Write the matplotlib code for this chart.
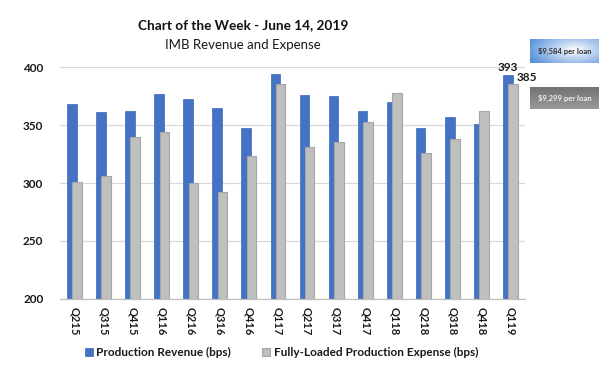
import numpy as np
import matplotlib
matplotlib.use("Agg")
import matplotlib.pyplot as plt

quarters = ["Q215", "Q315", "Q415", "Q116", "Q216", "Q316", "Q416", "Q117", "Q217",
            "Q317", "Q417", "Q118", "Q218", "Q318", "Q418", "Q119"]
revenue = [368, 361, 362, 377, 372, 365, 347, 394, 376, 375, 362, 370, 347, 357, 351, 393]
expense = [301, 306, 340, 344, 300, 292, 323, 385, 331, 335, 353, 378, 326, 338, 362, 385]
rev_label = "Production Revenue (bps)"
exp_label = "Fully-Loaded Production Expense (bps)"
title = "Chart of the Week - June 14, 2019"
subtitle = "IMB Revenue and Expense"
box1_text = "$9,584 per loan"
box2_text = "$9,299 per loan"

plt.rcParams['font.family'] = ['Lato', 'DejaVu Sans']

fig = plt.figure(figsize=(6.0, 3.67), dpi=100)
ax = fig.add_axes([0.1, 0.1853, 0.775, 0.6321])

x = np.arange(len(quarters))
w = 0.33
off = 0.09
blue = "#4472C4"
grey = "#BFBFBF"
ax.bar(x - off, revenue, width=w, color=blue, edgecolor="#3C68B8", linewidth=0.5,
       label=rev_label, zorder=2)
ax.bar(x + off, expense, width=w, color=grey, edgecolor="#A6A6A6", linewidth=0.8,
       label=exp_label, zorder=3)

ax.set_xlim(-0.5, len(quarters) - 0.5)
ax.set_ylim(200, 400)
ax.set_yticks([200, 250, 300, 350, 400])
ax.yaxis.grid(True, color="#D9D9D9", linewidth=0.9, zorder=0)
ax.set_axisbelow(True)
for s in ["top", "right", "left"]:
    ax.spines[s].set_visible(False)
ax.spines["bottom"].set_color("#BFBFBF")
ax.spines["bottom"].set_linewidth(0.9)
ax.tick_params(axis="y", length=0, pad=12, labelsize=8.5, labelcolor="#1a1a1a")
ax.tick_params(axis="x", length=0, pad=6, labelsize=8, labelcolor="#1a1a1a")
ax.set_xticks(x)
ax.set_xticklabels(quarters, rotation=-90, fontweight="bold")
for t in ax.get_yticklabels():
    t.set_fontweight("bold")

# value labels on last quarter
ax.text(x[-1] - off, revenue[-1] + 1.5, str(revenue[-1]), ha="center", va="bottom",
        fontsize=8.5, fontweight="bold", color="#1a1a1a")
ax.text(x[-1] + off + 0.12, expense[-1] + 1, str(expense[-1]), ha="left", va="bottom",
        fontsize=8.5, fontweight="bold", color="#1a1a1a")

fig.text(0.405, 0.932, title, ha="center", va="center", fontsize=9.8, fontweight="bold",
         color="#111111")
fig.text(0.405, 0.877, subtitle, ha="center", va="center", fontsize=9.5, color="#1a1a1a")

leg = fig.legend(loc="center", bbox_to_anchor=(0.469, 0.04), ncol=2, frameon=False,
                 fontsize=8.5, handlelength=0.7, handleheight=0.7, columnspacing=2.6,
                 handletextpad=0.3)
for t in leg.get_texts():
    t.set_fontweight("bold")
    t.set_color("#1a1a1a")

# gradient boxes
def grad_box(rect, img, text, tcolor):
    bax = fig.add_axes(rect)
    bax.imshow(img, aspect="auto", extent=[0, 1, 0, 1], origin="lower")
    bax.set_xlim(0, 1); bax.set_ylim(0, 1)
    bax.axis("off")
    bax.text(0.5, 0.5, text, ha="center", va="center", fontsize=5.5, fontweight="bold",
             color=tcolor)

gx, gy = np.meshgrid(np.linspace(0, 1, 80), np.linspace(0, 1, 30))
d = np.clip(np.sqrt(((gx - 0.65) / 0.7) ** 2 + ((gy - 0.55) / 0.9) ** 2), 0, 1)
c_blue = np.array([0.36, 0.58, 0.86])
c_white = np.array([1.0, 1.0, 1.0])
img1 = c_white[None, None, :] * (1 - d[..., None]) + c_blue[None, None, :] * d[..., None]
grad_box([530 / 600, 1 - 63 / 367, 69 / 600, 24 / 367], img1, box1_text, "#333333")

t = gy
c_dark = np.array([0.45, 0.45, 0.45])
c_light = np.array([0.60, 0.60, 0.60])
img2 = c_dark[None, None, :] * (t[..., None]) + c_light[None, None, :] * (1 - t[..., None])
grad_box([530 / 600, 1 - 109 / 367, 69 / 600, 22 / 367], img2, box2_text, "#F0F0F0")

fig.savefig("out.png", dpi=100)
